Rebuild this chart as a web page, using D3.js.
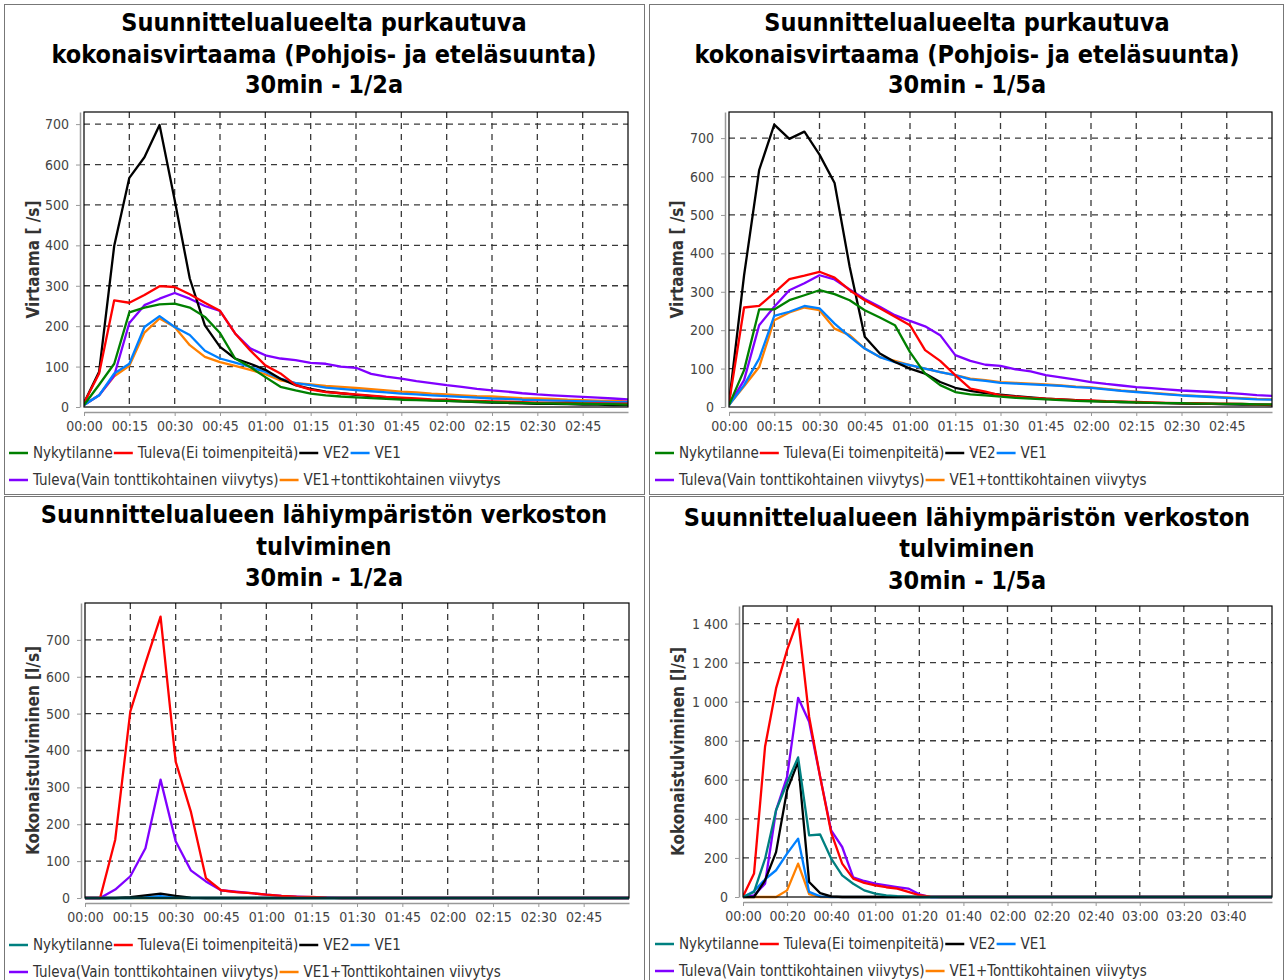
<!DOCTYPE html>
<html>
<head>
<meta charset="utf-8">
<script src="https://cdnjs.cloudflare.com/ajax/libs/d3/7.8.5/d3.min.js"></script>
<style>
  body { margin: 0; background: #fff; }
  svg { display: block; }
  text { font-family: "DejaVu Sans Condensed", "DejaVu Sans", sans-serif; }
</style>
</head>
<body>
<div id="chart-container"></div>
<script>
// sample times in minutes
var minutesTop = [0,5,10,15,20,25,30,35,40,45,50,55,60,65,70,75,80,85,90,95,100,105,110,115,120,125,130,135,140,145,150,155,160,165,170,175,180];
var minutesLowLeft = [0,5,10,15,20,25,30,35,40,45,50,55,60,65,70,75,80,85,180];
var minutesLowRight = [0,5,10,15,20,25,30,35,40,45,50,55,60,65,70,75,80,85,90,240];

var ticksX15 = [0,15,30,45,60,75,90,105,120,135,150,165];
var ticksX20 = [0,20,40,60,80,100,120,140,160,180,200,220];
var ticksY100 = [0,100,200,300,400,500,600,700];
var ticksY200 = [0,200,400,600,800,1000,1200,1400];

var namesTop = ["Nykytilanne", "Tuleva(Ei toimenpiteitä)", "VE2", "VE1", "Tuleva(Vain tonttikohtainen viivytys)", "VE1+tonttikohtainen viivytys"];
var namesLow = ["Nykytilanne", "Tuleva(Ei toimenpiteitä)", "VE2", "VE1", "Tuleva(Vain tonttikohtainen viivytys)", "VE1+Tonttikohtainen viivytys"];
var colorsTop = ["#008000", "#ff0000", "#000000", "#0080ff", "#8000ff", "#ff8000"];
var colorsLow = ["#008080", "#ff0000", "#000000", "#0080ff", "#8000ff", "#ff8000"];

// purkautuva virtaama 1/2a
var p1Nyky   = [5,55,107,234,246,254,256,246,223,183,120,99,74,50,41,33,29,26,24,22,20,18,17,16,15,14,13,12,11,10,9,9,8,8,7,7,6];
var p1Tuleva = [10,83,264,258,277,299,297,279,258,238,182,140,103,83,54,43,37,34,31,28,25,23,21,19,18,16,15,14,13,12,11,10,10,9,9,8,8];
var p1VE2    = [10,87,399,567,618,698,512,318,202,149,120,107,92,70,54,45,38,34,30,27,24,21,19,17,15,14,12,11,10,9,8,8,7,6,6,5,5];
var p1VE1    = [5,29,83,107,198,225,198,178,139,120,110,99,87,70,59,54,48,45,42,39,36,33,31,29,27,25,23,21,20,18,17,16,15,14,13,12,12];
var p1Vain   = [5,29,78,208,252,268,282,268,250,238,182,145,128,120,116,109,107,100,97,82,75,70,64,59,54,50,45,41,38,34,31,29,27,25,23,21,19];
var p1VE1T   = [5,29,76,102,184,219,198,153,124,111,102,92,81,66,59,56,52,50,47,44,41,38,36,33,31,29,27,26,24,22,21,20,18,17,16,15,14];

// purkautuva virtaama 1/5a
var p2Nyky   = [5,96,254,254,278,291,304,294,278,252,233,213,143,87,57,39,33,30,27,24,22,20,18,16,15,14,13,12,11,10,10,9,9,8,8,7,7];
var p2Tuleva = [10,259,263,297,333,342,352,337,304,278,257,235,213,148,120,83,48,40,30,27,24,22,20,18,17,15,14,13,12,11,10,10,9,9,8,7,6];
var p2VE2    = [10,343,617,735,698,717,657,583,365,183,139,117,100,87,65,50,42,36,32,28,25,22,20,18,16,14,13,12,11,10,9,8,8,7,6,6,5];
var p2VE1    = [5,57,126,237,248,263,257,217,183,152,130,117,109,100,91,83,72,68,63,61,59,57,55,52,50,46,42,39,36,33,30,28,26,24,22,20,19];
var p2Vain   = [5,70,213,261,304,322,343,332,306,281,261,239,224,210,187,135,120,110,107,98,93,83,77,71,65,60,56,52,49,46,43,41,39,37,34,31,29];
var p2VE1T   = [5,54,104,226,246,259,252,204,187,152,130,120,109,100,91,83,74,70,65,63,61,59,56,53,51,47,43,40,37,34,31,29,27,25,23,21,20];

// tulviminen 1/2a
var p3Nyky   = [0,0,0,0,0,0,0,0,0,0,0,0,0,0,0,0,0,0,0];
var p3Tuleva = [0,0,158,506,637,763,370,235,54,21,16,13,9,6,4,3,1,0,0];
var p3VE2    = [0,0,0,2,7,12,6,1,0,0,0,0,0,0,0,0,0,0,0];
var p3VE1    = [0,0,0,0,2,5,1,0,0,0,0,0,0,0,0,0,0,0,0];
var p3Vain   = [0,0,23,59,135,321,154,75,45,21,17,13,9,6,4,2,1,0,0];
var p3VE1T   = [0,0,0,0,0,0,0,0,0,0,0,0,0,0,0,0,0,0,0];

// tulviminen 1/5a
var p4Nyky   = [0,26,195,444,585,715,316,320,197,111,68,34,17,8,4,2,0,0,0,0];
var p4Tuleva = [3,120,769,1068,1265,1422,923,615,330,171,94,72,60,50,43,26,9,2,0,0];
var p4VE2    = [0,0,85,230,547,692,77,20,3,0,0,0,0,0,0,0,0,0,0,0];
var p4VE1    = [0,30,90,137,222,299,26,3,0,0,0,0,0,0,0,0,0,0,0,0];
var p4Vain   = [0,8,68,444,615,1020,897,615,341,256,100,82,68,60,51,43,14,0,0,0];
var p4VE1T   = [0,0,0,0,34,171,15,0,0,0,0,0,0,0,0,0,0,0,0,0];

var fmtTime = function(m) {
  return d3.format("02d")(Math.floor(m / 60)) + ":" + d3.format("02d")(m % 60);
};
var fiLocale = d3.formatLocale({decimal: ",", thousands: "\u00a0", grouping: [3], currency: ["", " €"]});
var fmtY = fiLocale.format(",d");

var panels = [
  { box: [4.5, 4.5, 640, 490], cx: 324, titleY: [22, 54, 84],
    title: ["Suunnittelualueelta purkautuva", "kokonaisvirtaama (Pohjois- ja eteläsuunta)", "30min - 1/2a"],
    plot: {l: 84, t: 112, r: 628, b: 407}, xMax: 180, yMax: 730, xTicks: ticksX15, yTicks: ticksY100,
    yLabel: "Virtaama [ /s]", yLabelX: 33, legendX: 9, legendY: [453, 480],
    minutes: minutesTop, series: [p1Nyky, p1Tuleva, p1VE2, p1VE1, p1Vain, p1VE1T], names: namesTop, colors: colorsTop },
  { box: [649.5, 4.5, 634, 490], cx: 967, titleY: [22, 54, 84],
    title: ["Suunnittelualueelta purkautuva", "kokonaisvirtaama (Pohjois- ja eteläsuunta)", "30min - 1/5a"],
    plot: {l: 729, t: 112, r: 1272, b: 407}, xMax: 180, yMax: 768, xTicks: ticksX15, yTicks: ticksY100,
    yLabel: "Virtaama [ /s]", yLabelX: 677, legendX: 655, legendY: [453, 480],
    minutes: minutesTop, series: [p2Nyky, p2Tuleva, p2VE2, p2VE1, p2Vain, p2VE1T], names: namesTop, colors: colorsTop },
  { box: [4.5, 496.5, 640, 500], cx: 324, titleY: [514, 546, 577],
    title: ["Suunnittelualueen lähiympäristön verkoston", "tulviminen", "30min - 1/2a"],
    plot: {l: 85, t: 603, r: 629, b: 898}, xMax: 180, yMax: 800, xTicks: ticksX15, yTicks: ticksY100,
    yLabel: "Kokonaistulviminen [l/s]", yLabelX: 33, legendX: 9, legendY: [945, 972],
    minutes: minutesLowLeft, series: [p3Nyky, p3Tuleva, p3VE2, p3VE1, p3Vain, p3VE1T], names: namesLow, colors: colorsLow },
  { box: [649.5, 496.5, 634, 500], cx: 967, titleY: [517, 548, 580],
    title: ["Suunnittelualueen lähiympäristön verkoston", "tulviminen", "30min - 1/5a"],
    plot: {l: 743, t: 606, r: 1272, b: 897}, xMax: 240, yMax: 1490, xTicks: ticksX20, yTicks: ticksY200,
    yLabel: "Kokonaistulviminen [l/s]", yLabelX: 678, legendX: 655, legendY: [944, 971],
    minutes: minutesLowRight, series: [p4Nyky, p4Tuleva, p4VE2, p4VE1, p4Vain, p4VE1T], names: namesLow, colors: colorsLow }
];

var svg = d3.select("#chart-container").append("svg")
    .attr("width", 1285)
    .attr("height", 980);

function drawPanel(p, k) {
  var g = svg.append("g");

  g.append("rect")
    .attr("x", p.box[0]).attr("y", p.box[1])
    .attr("width", p.box[2]).attr("height", p.box[3])
    .attr("fill", "#fff")
    .attr("stroke", "#777")
    .attr("stroke-width", 1);

  p.title.forEach(function(t, i) {
    g.append("text")
      .attr("x", p.cx)
      .attr("y", p.titleY[i])
      .attr("text-anchor", "middle")
      .attr("dominant-baseline", "central")
      .style("font-size", "25px")
      .style("font-weight", "bold")
      .attr("fill", "#000")
      .text(t);
  });

  var x = d3.scaleLinear().domain([0, p.xMax]).range([p.plot.l, p.plot.r]);
  var y = d3.scaleLinear().domain([0, p.yMax]).range([p.plot.b, p.plot.t]);

  g.append("rect")
    .attr("x", p.plot.l).attr("y", p.plot.t)
    .attr("width", p.plot.r - p.plot.l).attr("height", p.plot.b - p.plot.t)
    .attr("fill", "#fff");

  // dashed grid
  g.append("g").selectAll("line.gx")
    .data(p.xTicks.slice(1))
    .enter().append("line")
    .attr("x1", function(d) { return x(d); }).attr("x2", function(d) { return x(d); })
    .attr("y1", p.plot.t).attr("y2", p.plot.b)
    .attr("stroke", "#3a3a3a").attr("stroke-width", 1.3)
    .attr("stroke-dasharray", "6,5");
  g.append("g").selectAll("line.gy")
    .data(p.yTicks.slice(1))
    .enter().append("line")
    .attr("x1", p.plot.l).attr("x2", p.plot.r)
    .attr("y1", function(d) { return y(d); }).attr("y2", function(d) { return y(d); })
    .attr("stroke", "#3a3a3a").attr("stroke-width", 1.3)
    .attr("stroke-dasharray", "6,5");

  // axes
  var yAxis = g.append("g")
    .attr("transform", "translate(" + (p.plot.l - 4) + ",0)")
    .call(d3.axisLeft(y).tickValues(p.yTicks).tickFormat(fmtY).tickSize(4).tickSizeOuter(0).tickPadding(7));
  var xAxis = g.append("g")
    .attr("transform", "translate(0," + (p.plot.b + 5) + ")")
    .call(d3.axisBottom(x).tickValues(p.xTicks).tickFormat(fmtTime).tickSize(4).tickSizeOuter(0).tickPadding(5));
  [yAxis, xAxis].forEach(function(a) {
    a.select(".domain").attr("stroke", "#999").attr("stroke-width", 1.5);
    a.selectAll(".tick line").attr("stroke", "#999");
    a.selectAll(".tick text")
      .attr("fill", "#444")
      .style("font-size", "14px")
      .style("font-family", "'DejaVu Sans Condensed', 'DejaVu Sans', sans-serif");
  });

  g.append("text")
    .attr("transform", "translate(" + p.yLabelX + "," + ((p.plot.t + p.plot.b) / 2) + ") rotate(-90)")
    .attr("text-anchor", "middle")
    .attr("dominant-baseline", "central")
    .style("font-size", "17px")
    .style("font-weight", "bold")
    .attr("fill", "#333")
    .text(p.yLabel);

  // series
  var clipId = "clip" + k;
  svg.append("clipPath").attr("id", clipId)
    .append("rect")
    .attr("x", p.plot.l).attr("y", p.plot.t - 2)
    .attr("width", p.plot.r - p.plot.l).attr("height", p.plot.b - p.plot.t + 4);

  var line = d3.line()
    .x(function(d, i) { return x(p.minutes[i]); })
    .y(function(d) { return y(d); });

  var order = d3.range(p.series.length).reverse();
  g.append("g").attr("clip-path", "url(#" + clipId + ")")
    .selectAll("path")
    .data(order)
    .enter().append("path")
    .attr("d", function(i) { return line(p.series[i]); })
    .attr("fill", "none")
    .attr("stroke", function(i) { return p.colors[i]; })
    .attr("stroke-width", 2.3)
    .attr("stroke-linejoin", "round");

  g.append("rect")
    .attr("x", p.plot.l).attr("y", p.plot.t)
    .attr("width", p.plot.r - p.plot.l).attr("height", p.plot.b - p.plot.t)
    .attr("fill", "none")
    .attr("stroke", "#000")
    .attr("stroke-width", 1.2);

  // legend, two rows
  var rows = [[0, 1, 2, 3], [4, 5]];
  rows.forEach(function(row, r) {
    var lx = p.legendX;
    var ly = p.legendY[r];
    row.forEach(function(i) {
      g.append("line")
        .attr("x1", lx).attr("x2", lx + 19)
        .attr("y1", ly).attr("y2", ly)
        .attr("stroke", p.colors[i]).attr("stroke-width", 2.5);
      var t = g.append("text")
        .attr("x", lx + 24)
        .attr("y", ly)
        .attr("dominant-baseline", "central")
        .style("font-size", "15px")
        .attr("fill", "#333")
        .text(p.names[i]);
      lx += 24 + t.node().getComputedTextLength() + 1;
    });
  });
}

panels.forEach(drawPanel);
</script>
</body>
</html>
